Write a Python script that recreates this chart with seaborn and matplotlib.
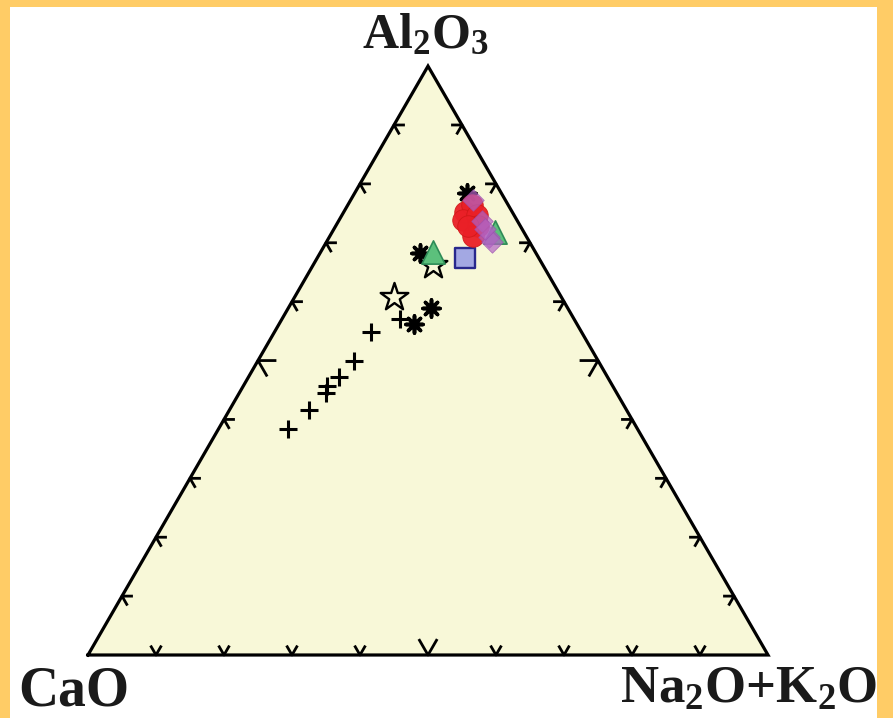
import numpy as np
import pandas as pd
import matplotlib.pyplot as plt
import seaborn as sns
from matplotlib.patches import Rectangle

# Ternary compositions (percent): Al2O3, CaO, Na2O+K2O
cross_al = [38.3, 41.6, 44.5, 45.6, 47.3, 49.9, 54.8, 57.0]
cross_ca = [51.4, 46.7, 42.7, 42.0, 39.5, 36.0, 31.0, 25.6]
cross_nk = [10.3, 11.7, 12.7, 12.4, 13.3, 14.1, 14.2, 17.4]

star_al = [60.8, 66.2]
star_ca = [24.5, 16.2]
star_nk = [14.6, 17.6]

aster_al = [59.0, 56.2, 68.3, 78.5]
aster_ca = [20.1, 23.9, 17.0, 5.0]
aster_nk = [20.9, 19.9, 14.7, 16.5]

tri_al = [68.4, 71.8]
tri_ca = [15.1, 4.2]
tri_nk = [16.5, 24.0]

sq_al = [67.4]
sq_ca = [10.9]
sq_nk = [21.8]

circ_al = [75.2, 76.4, 73.9, 74.7, 72.7, 71.0, 72.8]
circ_ca = [7.0, 5.4, 7.9, 5.5, 6.2, 7.8, 7.7]
circ_nk = [17.8, 18.2, 18.3, 19.8, 21.0, 21.1, 19.5]

dia_al = [77.3, 73.7, 71.0, 70.1, 72.3]
dia_ca = [4.8, 5.2, 5.6, 5.6, 5.5]
dia_nk = [18.0, 21.1, 23.4, 24.3, 22.2]

H = np.sqrt(3) / 2
BORDER = '#FFCC66'
FILL = '#F8F8D8'


def to_xy(al, ca, nk):
    al, ca, nk = np.asarray(al, float), np.asarray(ca, float), np.asarray(nk, float)
    tot = al + ca + nk
    a, n = al / tot, nk / tot
    return pd.DataFrame({'x': n + a / 2, 'y': a * H})


fig = plt.figure(figsize=(8.93, 7.18), dpi=100)
fig.patch.set_facecolor(BORDER)

ax = fig.add_axes([0, 0, 1, 1])
ax.set_xlim(-88 / 680, (893 - 88) / 680)
ax.set_ylim((655 - 718) / 680, 655 / 680)
ax.axis('off')

# white inner panel (orange frame left, top, right)
ax.add_patch(Rectangle((10 / 893, 0), 867 / 893, 711 / 718,
                       transform=fig.transFigure, facecolor='white',
                       edgecolor='none', zorder=0))

# triangle frame
ax.fill([0, 1, 0.5], [0, 0, H], color=FILL, zorder=1)
ax.plot([0, 1, 0.5, 0], [0, 0, H, 0], color='black', lw=2.3,
        solid_joinstyle='miter', zorder=2)

# chevron ticks every 10 %
for k in range(1, 10):
    L = 0.025 if k == 5 else 0.014
    t = k / 10
    ticks = [
        ((t, 0), (-0.5, H), (0.5, H)),                  # bottom
        ((t / 2, t * H), (1, 0), (0.5, -H)),            # left
        ((1 - t / 2, t * H), (-1, 0), (-0.5, -H)),      # right
    ]
    for (px, py), d1, d2 in ticks:
        ax.plot([px + L * d1[0], px, px + L * d2[0]],
                [py + L * d1[1], py, py + L * d2[1]],
                color='black', lw=2, zorder=2)

common = dict(ax=ax, legend=False, zorder=4)

sns.scatterplot(data=to_xy(cross_al, cross_ca, cross_nk), x='x', y='y',
                marker='+', s=180, color='black', linewidth=2.2, **common)
sns.scatterplot(data=to_xy(star_al, star_ca, star_nk), x='x', y='y',
                marker='*', s=440, facecolor=FILL, edgecolor='black',
                linewidth=1.7, **common)
sns.scatterplot(data=to_xy(aster_al, aster_ca, aster_nk), x='x', y='y',
                marker=(8, 2, 0), s=150, color='black', linewidth=2.6, **common)
sns.scatterplot(data=to_xy(tri_al, tri_ca, tri_nk), x='x', y='y',
                marker='^', s=280, facecolor='#5CC07C', edgecolor='#2E8B57',
                linewidth=1.2, **common)
sns.scatterplot(data=to_xy(sq_al, sq_ca, sq_nk), x='x', y='y',
                marker='s', s=190, facecolor='#A3A8E3', edgecolor='#28288C',
                linewidth=1.7, **common)
sns.scatterplot(data=to_xy(circ_al, circ_ca, circ_nk), x='x', y='y',
                marker='o', s=240, facecolor='#EA2027', edgecolor='#D01818',
                alpha=0.95, linewidth=0.6, **common)
sns.scatterplot(data=to_xy(dia_al, dia_ca, dia_nk), x='x', y='y',
                marker='D', s=120, facecolor='#B263C4', edgecolor='#9A4FAE',
                alpha=0.7, linewidth=0.6, **common)

# vertex labels
plt.rcParams['mathtext.fontset'] = 'custom'
plt.rcParams['mathtext.rm'] = 'Liberation Serif:bold'
lab = dict(family='Liberation Serif', fontweight='bold', color='#1A1A1A')
fig.text(425 / 893, 1 - 48 / 718, r'$\mathrm{Al_2O_3}$', ha='center',
         va='baseline', fontsize=36, **lab)
fig.text(18 / 893, 1 - 706 / 718, 'CaO', ha='left', va='baseline',
         fontsize=40, **lab)
fig.text(877 / 893, 1 - 703 / 718, r'$\mathrm{Na_2O{+}K_2O}$', ha='right',
         va='baseline', fontsize=38, **lab)

fig.savefig('out.png', dpi=100, facecolor=fig.get_facecolor())
